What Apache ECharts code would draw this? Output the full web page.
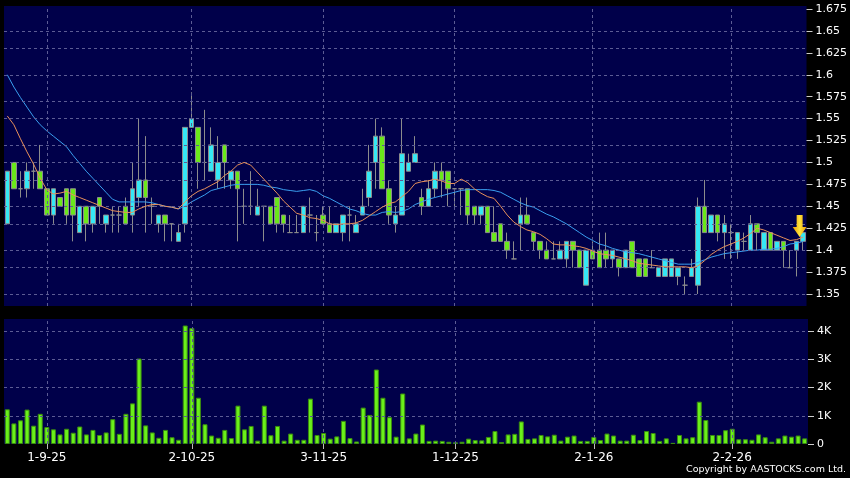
<!DOCTYPE html>
<html><head><meta charset="utf-8">
<script src="https://cdn.jsdelivr.net/npm/echarts@6/dist/echarts.min.js"></script>
<style>html,body{margin:0;padding:0;background:#000;}#c{width:850px;height:478px;}</style>
</head><body><div id="c"></div>
<script>
const dates = ['22-8-25','25-8-25','26-8-25','27-8-25','28-8-25','29-8-25',
'1-9-25','2-9-25','3-9-25','4-9-25','5-9-25','8-9-25','9-9-25','10-9-25','11-9-25','12-9-25','15-9-25','16-9-25','17-9-25','18-9-25','19-9-25','22-9-25','23-9-25','24-9-25','25-9-25','26-9-25','29-9-25','30-9-25',
'2-10-25','3-10-25','6-10-25','8-10-25','9-10-25','10-10-25','13-10-25','14-10-25','15-10-25','16-10-25','17-10-25','20-10-25','21-10-25','22-10-25','23-10-25','24-10-25','27-10-25','28-10-25','30-10-25','31-10-25',
'3-11-25','4-11-25','5-11-25','6-11-25','7-11-25','10-11-25','11-11-25','12-11-25','13-11-25','14-11-25','17-11-25','18-11-25','19-11-25','20-11-25','21-11-25','24-11-25','25-11-25','26-11-25','27-11-25','28-11-25',
'1-12-25','2-12-25','3-12-25','4-12-25','5-12-25','8-12-25','9-12-25','10-12-25','11-12-25','12-12-25','15-12-25','16-12-25','17-12-25','18-12-25','19-12-25','22-12-25','23-12-25','24-12-25','29-12-25','30-12-25','31-12-25',
'2-1-26','5-1-26','6-1-26','7-1-26','8-1-26','9-1-26','12-1-26','13-1-26','14-1-26','15-1-26','16-1-26','19-1-26','20-1-26','21-1-26','22-1-26','23-1-26','26-1-26','27-1-26','28-1-26','29-1-26','30-1-26',
'2-2-26','3-2-26','4-2-26','5-2-26','6-2-26','9-2-26','10-2-26','11-2-26','12-2-26','13-2-26','16-2-26','20-2-26'];

const opens = [1.43,1.50,1.47,1.47,1.49,1.49,1.47,1.44,1.46,1.47, 1.47,1.42,1.45,1.43,1.46,1.43,1.44,1.44,1.45,1.44, 1.46,1.48,1.45,1.43,1.44,1.43,1.41,1.43,1.54,1.54, 1.50,1.49,1.48,1.52,1.48,1.49,1.45,1.45,1.44,1.45, 1.45,1.46,1.44,1.42,1.42,1.42,1.44,1.42,1.44,1.43, 1.42,1.42,1.44,1.42,1.44,1.46,1.50,1.53,1.47,1.43, 1.44,1.49,1.50,1.46,1.45,1.47,1.49,1.49,1.47,1.47, 1.47,1.45,1.44,1.45,1.42,1.43,1.41,1.39,1.43,1.44, 1.42,1.41,1.40,1.39,1.39,1.39,1.41,1.40,1.36,1.40, 1.40,1.40,1.39,1.39,1.38,1.41,1.39,1.39,1.38,1.37, 1.37,1.37,1.37,1.36,1.37,1.36,1.45,1.42,1.44,1.42, 1.42,1.40,1.41,1.40,1.43,1.40,1.42,1.40,1.41,1.38, 1.40,1.41];
const closes = [1.49,1.47,1.47,1.49,1.49,1.47,1.44,1.47,1.45,1.44, 1.44,1.45,1.43,1.45,1.45,1.44,1.44,1.44,1.43,1.47, 1.48,1.46,1.45,1.44,1.43,1.43,1.42,1.54,1.55,1.50, 1.50,1.52,1.50,1.50,1.49,1.47,1.45,1.45,1.45,1.45, 1.43,1.43,1.43,1.42,1.42,1.45,1.44,1.42,1.43,1.42, 1.43,1.44,1.44,1.43,1.45,1.49,1.53,1.47,1.44,1.44, 1.51,1.50,1.51,1.45,1.47,1.49,1.48,1.47,1.47,1.47, 1.44,1.44,1.45,1.42,1.41,1.41,1.40,1.39,1.44,1.43, 1.41,1.40,1.39,1.39,1.40,1.41,1.40,1.38,1.40,1.39, 1.38,1.39,1.40,1.38,1.40,1.38,1.37,1.37,1.38,1.38, 1.39,1.39,1.38,1.36,1.38,1.45,1.42,1.44,1.42,1.43, 1.42,1.42,1.41,1.43,1.42,1.42,1.40,1.41,1.40,1.38, 1.41,1.42];
const lows = [1.43,1.47,1.46,1.46,1.47,1.47,1.44,1.43,1.45,1.43, 1.41,1.42,1.41,1.42,1.43,1.42,1.42,1.42,1.43,1.42, 1.45,1.42,1.43,1.42,1.41,1.41,1.41,1.42,1.54,1.47, 1.48,1.49,1.47,1.47,1.47,1.41,1.43,1.44,1.44,1.41, 1.43,1.42,1.42,1.42,1.42,1.42,1.42,1.41,1.43,1.42, 1.42,1.41,1.41,1.42,1.44,1.45,1.47,1.47,1.43,1.42, 1.44,1.49,1.50,1.44,1.45,1.46,1.46,1.45,1.45,1.44, 1.43,1.43,1.43,1.42,1.41,1.41,1.39,1.39,1.40,1.43, 1.40,1.39,1.39,1.39,1.39,1.38,1.38,1.38,1.36,1.39, 1.38,1.38,1.38,1.37,1.38,1.38,1.37,1.37,1.38,1.37, 1.37,1.37,1.36,1.35,1.37,1.35,1.42,1.42,1.41,1.39, 1.39,1.39,1.40,1.40,1.40,1.40,1.40,1.40,1.38,1.38, 1.37,1.40];
const highs = [1.49,1.50,1.49,1.50,1.50,1.52,1.47,1.47,1.46,1.47, 1.47,1.45,1.45,1.45,1.46,1.44,1.45,1.45,1.46,1.50, 1.55,1.53,1.46,1.44,1.44,1.43,1.43,1.54,1.58,1.54, 1.56,1.54,1.53,1.52,1.49,1.49,1.47,1.49,1.47,1.45, 1.45,1.46,1.44,1.44,1.44,1.45,1.46,1.44,1.45,1.45, 1.43,1.44,1.45,1.44,1.47,1.52,1.55,1.54,1.48,1.45, 1.55,1.51,1.53,1.47,1.48,1.50,1.50,1.49,1.47,1.47, 1.47,1.45,1.45,1.45,1.45,1.43,1.42,1.41,1.46,1.46, 1.42,1.41,1.41,1.41,1.41,1.41,1.41,1.40,1.40,1.41, 1.42,1.42,1.40,1.39,1.40,1.41,1.39,1.39,1.40,1.38, 1.39,1.39,1.38,1.37,1.39,1.46,1.48,1.44,1.44,1.44, 1.43,1.42,1.42,1.44,1.43,1.42,1.42,1.41,1.41,1.40, 1.41,1.42];

const maShort = [1.553,1.543,1.527,1.512,1.498,1.482,1.469,1.464,1.465,1.467, 1.463,1.460,1.457,1.454,1.451,1.448,1.445,1.444,1.443,1.443, 1.447,1.450,1.452,1.452,1.450,1.449,1.447,1.455,1.462,1.467, 1.470,1.474,1.478,1.485,1.490,1.497,1.500,1.497,1.489,1.481, 1.473,1.465,1.456,1.449,1.442,1.440,1.437,1.436,1.434,1.430, 1.429,1.430,1.430,1.431,1.434,1.439,1.444,1.449,1.453,1.455, 1.461,1.467,1.476,1.478,1.479,1.481,1.479,1.476,1.476,1.481, 1.477,1.470,1.465,1.461,1.459,1.450,1.440,1.432,1.427,1.423, 1.421,1.418,1.413,1.407,1.406,1.406,1.405,1.404,1.402,1.399, 1.396,1.395,1.394,1.392,1.390,1.388,1.385,1.384,1.383,1.382, 1.381,1.381,1.381,1.381,1.380,1.382,1.388,1.395,1.400,1.404, 1.407,1.410,1.414,1.419,1.425,1.423,1.420,1.417,1.414,1.411, 1.412,1.415];
const maLong = [1.600,1.586,1.574,1.563,1.552,1.543,1.536,1.530,1.524,1.518, 1.508,1.499,1.490,1.482,1.474,1.466,1.458,1.455,1.455,1.455, 1.455,1.455,1.454,1.452,1.450,1.449,1.447,1.450,1.455,1.459, 1.463,1.468,1.470,1.472,1.474,1.475,1.475,1.475,1.475,1.474, 1.472,1.471,1.469,1.468,1.467,1.468,1.469,1.467,1.462,1.459, 1.455,1.451,1.447,1.445,1.442,1.440,1.440,1.443,1.444,1.443, 1.444,1.447,1.452,1.455,1.458,1.460,1.462,1.464,1.466,1.468, 1.469,1.469,1.469,1.469,1.468,1.466,1.462,1.458,1.454,1.451, 1.449,1.445,1.441,1.438,1.434,1.430,1.425,1.420,1.415,1.411, 1.407,1.405,1.402,1.400,1.398,1.397,1.396,1.394,1.392,1.390, 1.388,1.386,1.384,1.384,1.384,1.386,1.389,1.392,1.394,1.396, 1.397,1.398,1.399,1.400,1.400,1.401,1.401,1.402,1.404,1.407, 1.408,1.410];

const volumesK = [1.23,0.73,0.84,1.22,0.65,1.07,0.60,0.52,0.34,0.54, 0.40,0.62,0.34,0.50,0.32,0.41,0.88,0.36,1.07,1.44, 3.03,0.66,0.41,0.22,0.50,0.24,0.15,4.20,4.11,1.64, 0.70,0.30,0.22,0.50,0.21,1.36,0.52,0.64,0.12,1.36, 0.31,0.64,0.12,0.37,0.15,0.15,1.61,0.32,0.39,0.19, 0.27,0.82,0.21,0.09,1.29,1.03,2.64,1.64,0.95,0.26, 1.79,0.20,0.37,0.69,0.11,0.12,0.11,0.08,0.06,0.08, 0.19,0.14,0.13,0.25,0.46,0.07,0.34,0.36,0.80,0.18, 0.20,0.32,0.27,0.33,0.12,0.26,0.30,0.11,0.11,0.25, 0.14,0.37,0.30,0.12,0.12,0.33,0.14,0.46,0.39,0.11, 0.20,0.04,0.32,0.20,0.24,1.50,0.85,0.32,0.32,0.49, 0.54,0.17,0.17,0.15,0.34,0.24,0.08,0.20,0.30,0.26, 0.30,0.20];

const xTickLabels = ['1-9-25','2-10-25','3-11-25','1-12-25','2-1-26','2-2-26'];
const priceTicks = [1.35,1.375,1.4,1.425,1.45,1.475,1.5,1.525,1.55,1.575,1.6,1.625,1.65,1.675];
const volumeTicks = [0,1,2,3,4];
const priceRange = [1.3363, 1.6784];
const volumeRange = [0, 4.43];
const arrowDate = '16-2-26';
const arrowPrice = 1.415;
const copyrightText = 'Copyright by AASTOCKS.com Ltd.';

const BG = '#00004a';
const GRIDC = '#5c5c94';
const CYAN = '#35e8f5';
const GREEN = '#6ae81a';
const BORDER = '#8c8c8c';
const FONT = 'DejaVu Sans';

const showTick = (i, v) => xTickLabels.indexOf(v) >= 0;

const chart = echarts.init(document.getElementById('c'), null, {renderer: 'canvas'});

const gridLineSeries = (xi, yi, yVals) => ({
  type: 'line', xAxisIndex: xi, yAxisIndex: yi, data: dates.map(() => null),
  silent: true, z: 1, symbol: 'none', lineStyle: {opacity: 0},
  markLine: {
    silent: true, symbol: ['none', 'none'], label: {show: false}, animation: false,
    lineStyle: {color: GRIDC, type: [3, 3], width: 1},
    emphasis: {disabled: true},
    data: yVals.map(v => ({yAxis: v})).concat(xTickLabels.map(l => ({xAxis: l})))
  }
});

chart.setOption({
  backgroundColor: '#000',
  animation: false,
  grid: [
    {left: 4, width: 804, top: 6, height: 300, show: true, backgroundColor: BG, borderWidth: 0, borderColor: BG},
    {left: 4, width: 804, top: 319, height: 125, show: true, backgroundColor: BG, borderWidth: 0, borderColor: BG}
  ],
  xAxis: [
    {type: 'category', gridIndex: 0, data: dates, boundaryGap: true,
     axisLine: {show: false}, axisTick: {show: false}, axisLabel: {show: false}, splitLine: {show: false}},
    {type: 'category', gridIndex: 1, data: dates, boundaryGap: true,
     axisLine: {show: false},
     axisTick: {show: true, alignWithLabel: true, interval: showTick, length: 5, lineStyle: {color: '#bbbbbb'}},
     axisLabel: {interval: showTick, color: '#ffffff', fontFamily: FONT, fontSize: 12, margin: 8},
     splitLine: {show: false}}
  ],
  yAxis: [
    {type: 'value', gridIndex: 0, position: 'right', min: priceRange[0], max: priceRange[1],
     axisLine: {show: false}, splitLine: {show: false},
     axisTick: {show: true, customValues: priceTicks, length: 6, lineStyle: {color: '#cccccc'}},
     axisLabel: {customValues: priceTicks, color: '#ffffff', fontFamily: FONT, fontSize: 11, margin: 9,
       formatter: v => String(+(+v).toFixed(3))}},
    {type: 'value', gridIndex: 1, position: 'right', min: volumeRange[0], max: volumeRange[1],
     axisLine: {show: false}, splitLine: {show: false},
     axisTick: {show: true, customValues: volumeTicks, length: 6, lineStyle: {color: '#cccccc'}},
     axisLabel: {customValues: volumeTicks, color: '#ffffff', fontFamily: FONT, fontSize: 11, margin: 9,
       formatter: v => (+v === 0 ? '0' : Math.round(v) + 'K')}}
  ],
  series: [
    gridLineSeries(0, 0, priceTicks),
    gridLineSeries(1, 1, volumeTicks.filter(v => v > 0)),
    {type: 'candlestick', xAxisIndex: 0, yAxisIndex: 0, z: 3, barWidth: 5,
     data: dates.map((d, i) => [opens[i], closes[i], lows[i], highs[i]]),
     itemStyle: {color: CYAN, color0: GREEN, borderColor: BORDER, borderColor0: BORDER, borderColorDoji: BORDER, borderWidth: 1},
     markPoint: {
       silent: true, animation: false, label: {show: false},
       data: [{coord: [arrowDate, arrowPrice],
         symbol: 'path://M4,0 L10,0 L10,12 L14,12 L7,22 L0,12 L4,12 Z',
         symbolSize: [14, 22], symbolOffset: [3, '-50%'],
         itemStyle: {color: {type: 'linear', x: 0, y: 0, x2: 1, y2: 0,
           colorStops: [{offset: 0, color: '#e89a00'}, {offset: 0.5, color: '#ffe23a'}, {offset: 1, color: '#e89a00'}]}}}]
     }},
    {type: 'line', xAxisIndex: 0, yAxisIndex: 0, z: 4, data: maLong, symbol: 'none', silent: true,
     lineStyle: {color: '#3a9ff0', width: 1}},
    {type: 'line', xAxisIndex: 0, yAxisIndex: 0, z: 5, data: maShort, symbol: 'none', silent: true,
     lineStyle: {color: '#e8905a', width: 1}},
    {type: 'bar', xAxisIndex: 1, yAxisIndex: 1, z: 3, barWidth: 5, data: volumesK, silent: true,
     itemStyle: {color: '#6af01a', borderColor: '#3a8a10', borderWidth: 1}}
  ],
  graphic: [
    {type: 'text', right: 4, top: 465, silent: true,
     style: {text: copyrightText, fill: '#ffffff', font: '9.5px "DejaVu Sans"'}}
  ]
});
</script></body></html>
